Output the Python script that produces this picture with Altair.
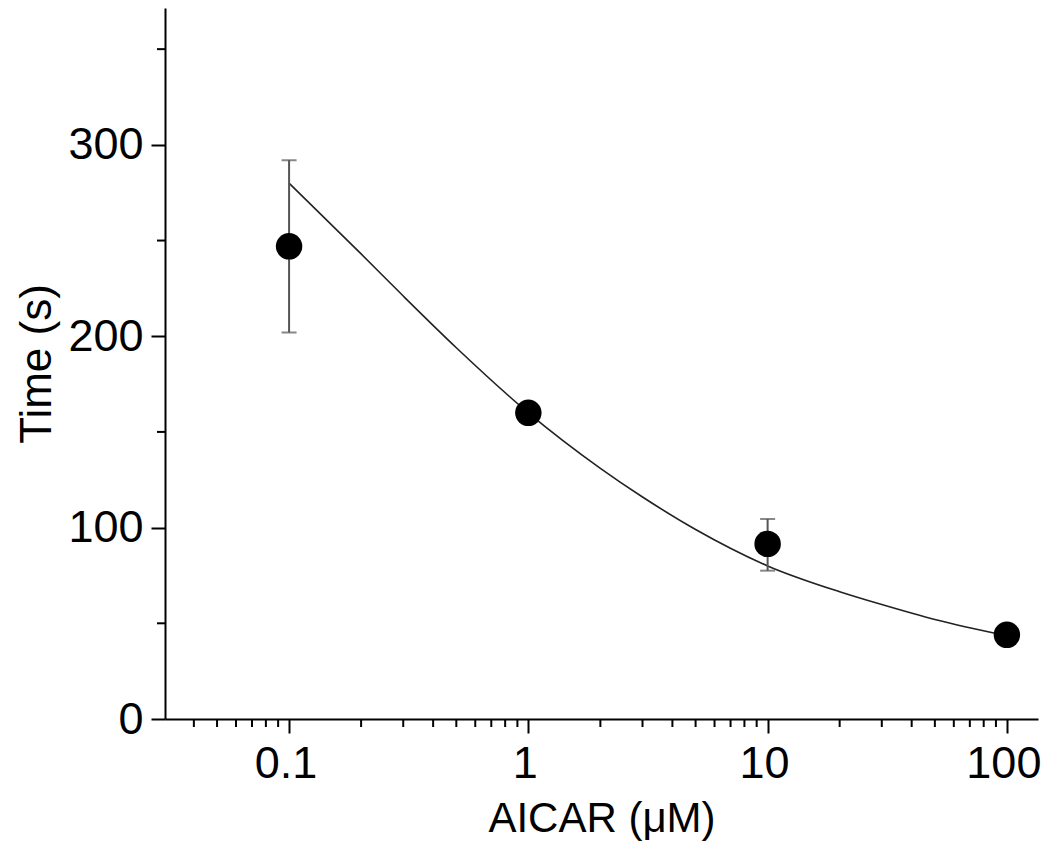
import altair as alt
import pandas as pd

# Measured data points
conc = [0.1, 1, 10, 100]
time_mean = [247, 160, 91.5, 44]

# Error bars (only visible for 0.1 and 10)
err_conc = [0.1, 10]
err_low = [202, 77.5]
err_high = [292, 104.5]

# Fitted curve
fit_conc = [0.1, 0.2, 0.3, 0.5, 1, 2, 3, 5, 10, 20, 30, 50, 100]
fit_time = [280, 243, 221, 194, 160, 131, 116, 99, 80, 66.5, 59.8, 52, 43.5]

# Axis ticks
x_major = [0.1, 1, 10, 100]
x_minor = [0.04, 0.05, 0.06, 0.07, 0.08, 0.09,
           0.2, 0.3, 0.4, 0.5, 0.6, 0.7, 0.8, 0.9,
           2, 3, 4, 5, 6, 7, 8, 9,
           20, 30, 40, 50, 60, 70, 80, 90]
y_major = [0, 100, 200, 300]
y_minor = [50, 150, 250, 350]

W, H = 873, 711
FONT = "Liberation Sans"

xs = alt.Scale(type="log", domain=[0.0303, 134.9], nice=False)
ys = alt.Scale(domain=[0, 371.5], nice=False, zero=False)

pts = pd.DataFrame({"conc": conc, "time": time_mean})
errs = pd.DataFrame({"conc": err_conc, "lo": err_low, "hi": err_high})
fit = pd.DataFrame({"conc": fit_conc, "time": fit_time})
xmin = pd.DataFrame({"v": x_minor})
ymin = pd.DataFrame({"v": y_minor})

base_x = alt.X("conc:Q", scale=xs,
               axis=alt.Axis(values=x_major, format="~g", title="AICAR (μM)",
                             grid=False, tickSize=14, tickWidth=2, domainWidth=2,
                             domainColor="black", tickColor="black",
                             labelFont=FONT, labelFontSize=45, labelColor="black",
                             labelPadding=8, labelOffset=-3.5,
                             titleFont=FONT, titleFontSize=42,
                             titleFontWeight="normal", titleColor="black",
                             titlePadding=12, labelFlush=False))
base_y = alt.Y("time:Q", scale=ys,
               axis=alt.Axis(values=y_major, title="Time (s)",
                             grid=False, tickSize=14, tickWidth=2, domainWidth=2,
                             domainColor="black", tickColor="black",
                             labelFont=FONT, labelFontSize=45, labelColor="black",
                             labelPadding=8, titleFont=FONT, titleFontSize=44,
                             titleFontWeight="normal", titleColor="black",
                             titlePadding=8, labelFlush=False))

curve = alt.Chart(fit).mark_line(color="#222222", strokeWidth=1.6,
                                 interpolate="monotone").encode(x=base_x, y=base_y)

bars = alt.Chart(errs).mark_rule(color="#555555", strokeWidth=2).encode(
    x=alt.X("conc:Q", scale=xs), y=alt.Y("lo:Q", scale=ys), y2="hi:Q")
cap_lo = alt.Chart(errs).mark_tick(orient="horizontal", size=15, thickness=2,
                                   color="#555555").encode(
    x=alt.X("conc:Q", scale=xs), y=alt.Y("lo:Q", scale=ys))
cap_hi = alt.Chart(errs).mark_tick(orient="horizontal", size=15, thickness=2,
                                   color="#555555").encode(
    x=alt.X("conc:Q", scale=xs), y=alt.Y("hi:Q", scale=ys))

dots = alt.Chart(pts).mark_circle(color="black", opacity=1, size=700).encode(
    x=alt.X("conc:Q", scale=xs), y=alt.Y("time:Q", scale=ys))

xminor = alt.Chart(xmin).mark_rule(color="black", strokeWidth=2).encode(
    x=alt.X("v:Q", scale=xs), y=alt.value(H), y2=alt.value(H + 8))
yminor = alt.Chart(ymin).mark_rule(color="black", strokeWidth=2).encode(
    y=alt.Y("v:Q", scale=ys), x=alt.value(0), x2=alt.value(-8))

chart = alt.layer(curve, bars, cap_lo, cap_hi, dots, xminor, yminor).properties(
    width=W, height=H,
    background="white",
    autosize=alt.AutoSizeParams(type="none"),
    padding={"left": 157, "top": 0, "right": 4, "bottom": 124},
).configure_view(strokeWidth=0, stroke="transparent")

chart.save("out.html", embed_options={"renderer": "svg", "actions": False})
